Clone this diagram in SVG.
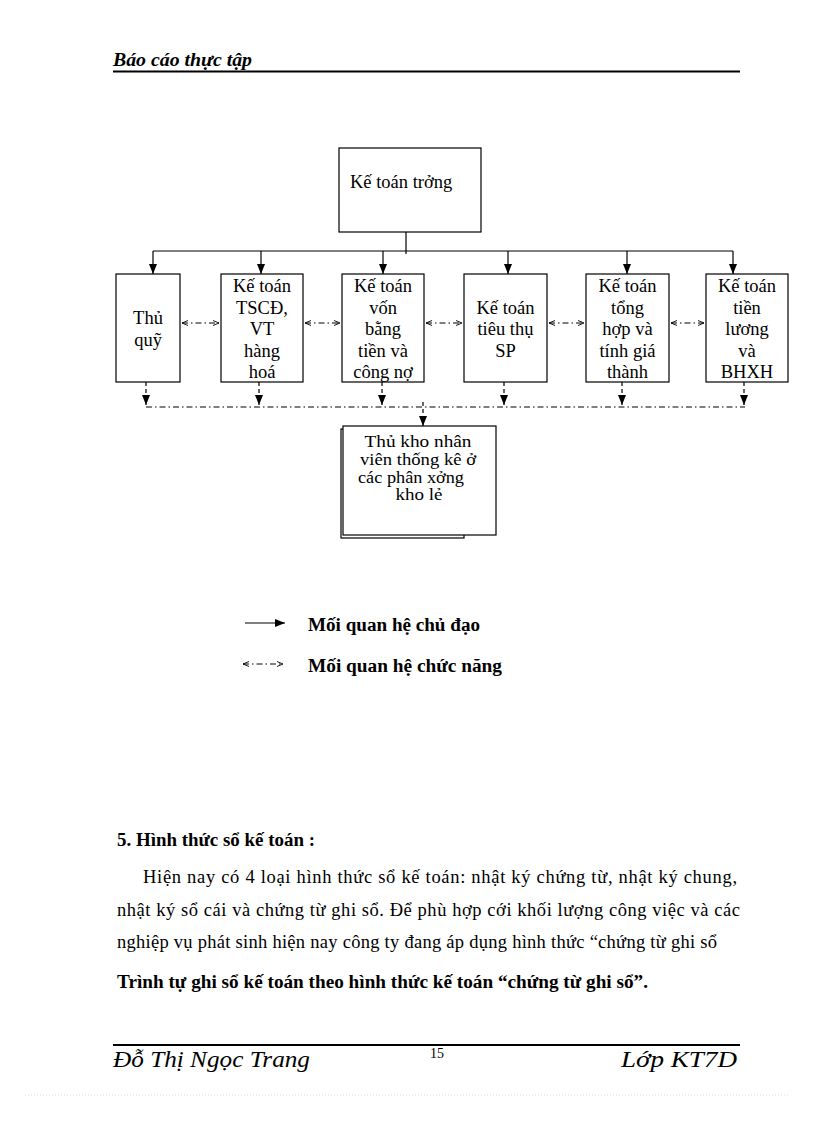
<svg xmlns="http://www.w3.org/2000/svg" width="816" height="1123" viewBox="0 0 816 1123">
<defs>
<style>
text{font-family:"Liberation Serif","Times New Roman",serif;fill:#000}
.box{fill:#fff;stroke:#000;stroke-width:1.2}
.bt{font-size:18.5px;text-anchor:middle}
.kt{font-size:16.5px}
.solid{stroke:#000;stroke-width:1.2;fill:none}
.dash{stroke:#000;stroke-width:1.2;fill:none;stroke-dasharray:4 3}
.dd{stroke:#000;stroke-width:1;fill:none;stroke-dasharray:6 3 1.5 3}
.body{font-size:18.5px}
.bold{font-weight:bold}
</style>
<marker id="ah" markerUnits="userSpaceOnUse" markerWidth="10" markerHeight="10" viewBox="0 0 10 10" refX="10" refY="5" orient="auto">
<path d="M0,1 L10,5 L0,9 Z" fill="#000"/>
</marker>
<marker id="oh" markerUnits="userSpaceOnUse" markerWidth="6" markerHeight="6" viewBox="0 0 6 6" refX="6" refY="3" orient="auto-start-reverse">
<path d="M0,0.5 L6,3 L0,5.5" fill="none" stroke="#000" stroke-width="0.9"/>
</marker>
</defs>
<rect width="816" height="1123" fill="#fff"/>

<g id="header">
<text x="113" y="66" font-size="19" font-weight="bold" font-style="italic" textLength="139" lengthAdjust="spacingAndGlyphs">Báo cáo thực tập</text>
<line x1="113" y1="71.5" x2="740" y2="71.5" stroke="#000" stroke-width="2"/>
</g>

<g id="n-truong">
<rect class="box" x="339" y="148" width="142" height="84"/>
<text x="350" y="188" font-size="18.5">Kế toán trởng</text>
</g>

<g id="n-thuquy">
<rect class="box" x="116" y="274" width="64" height="108"/>
<text class="bt" x="148" y="324">Thủ</text>
<text class="bt" x="148" y="345.5">quỹ</text>
</g>

<g id="n-tscd">
<rect class="box" x="221" y="274" width="82" height="108"/>
<text class="bt" x="262" y="292">Kế toán</text>
<text class="bt" x="262" y="313.5">TSCĐ,</text>
<text class="bt" x="262" y="335">VT</text>
<text class="bt" x="262" y="356.5">hàng</text>
<text class="bt" x="262" y="378">hoá</text>
</g>

<g id="n-von">
<rect class="box" x="342" y="274" width="82" height="108"/>
<text class="bt" x="383" y="292">Kế toán</text>
<text class="bt" x="383" y="313.5">vốn</text>
<text class="bt" x="383" y="335">bằng</text>
<text class="bt" x="383" y="356.5">tiền và</text>
<text class="bt" x="383" y="378">công nợ</text>
</g>

<g id="n-tieuthu">
<rect class="box" x="464" y="274" width="83" height="108"/>
<text class="bt" x="505.5" y="313.5">Kế toán</text>
<text class="bt" x="505.5" y="335">tiêu thụ</text>
<text class="bt" x="505.5" y="356.5">SP</text>
</g>

<g id="n-tonghop">
<rect class="box" x="586" y="274" width="83" height="108"/>
<text class="bt" x="627.5" y="292">Kế toán</text>
<text class="bt" x="627.5" y="313.5">tổng</text>
<text class="bt" x="627.5" y="335">hợp và</text>
<text class="bt" x="627.5" y="356.5">tính giá</text>
<text class="bt" x="627.5" y="378">thành</text>
</g>

<g id="n-tienluong">
<rect class="box" x="706" y="274" width="82" height="108"/>
<text class="bt" x="747" y="292">Kế toán</text>
<text class="bt" x="747" y="313.5">tiền</text>
<text class="bt" x="747" y="335">lương</text>
<text class="bt" x="747" y="356.5">và</text>
<text class="bt" x="747" y="378">BHXH</text>
</g>

<g id="n-thukho">
<rect x="341" y="429" width="123" height="109" fill="#fff" stroke="#000" stroke-width="1.2"/>
<rect class="box" x="343" y="426" width="153" height="109"/>
<text class="kt" x="418" y="447" text-anchor="middle" textLength="107" lengthAdjust="spacingAndGlyphs">Thủ kho nhân</text>
<text class="kt" x="418" y="465" text-anchor="middle" textLength="116" lengthAdjust="spacingAndGlyphs">viên thống kê ở</text>
<text class="kt" x="358" y="483" textLength="106" lengthAdjust="spacingAndGlyphs">các phân xởng</text>
<text class="kt" x="419" y="500" text-anchor="middle" textLength="47" lengthAdjust="spacingAndGlyphs">kho lẻ</text>
</g>

<g id="connectors">
<line class="solid" x1="406" y1="232" x2="406" y2="254"/>
<line class="solid" x1="153" y1="251" x2="733" y2="251"/>
<line class="solid" x1="153" y1="251" x2="153" y2="274" marker-end="url(#ah)"/>
<line class="solid" x1="261" y1="251" x2="261" y2="274" marker-end="url(#ah)"/>
<line class="solid" x1="383" y1="251" x2="383" y2="274" marker-end="url(#ah)"/>
<line class="solid" x1="508" y1="251" x2="508" y2="274" marker-end="url(#ah)"/>
<line class="solid" x1="627" y1="251" x2="627" y2="274" marker-end="url(#ah)"/>
<line class="solid" x1="733" y1="251" x2="733" y2="274" marker-end="url(#ah)"/>

<line class="dd" x1="182" y1="323" x2="219" y2="323" marker-start="url(#oh)" marker-end="url(#oh)"/>
<line class="dd" x1="305" y1="323" x2="340" y2="323" marker-start="url(#oh)" marker-end="url(#oh)"/>
<line class="dd" x1="426" y1="323" x2="462" y2="323" marker-start="url(#oh)" marker-end="url(#oh)"/>
<line class="dd" x1="549" y1="323" x2="584" y2="323" marker-start="url(#oh)" marker-end="url(#oh)"/>
<line class="dd" x1="671" y1="323" x2="704" y2="323" marker-start="url(#oh)" marker-end="url(#oh)"/>

<line class="dash" x1="146" y1="382" x2="146" y2="405" marker-end="url(#ah)"/>
<line class="dash" x1="259" y1="382" x2="259" y2="405" marker-end="url(#ah)"/>
<line class="dash" x1="382" y1="382" x2="382" y2="405" marker-end="url(#ah)"/>
<line class="dash" x1="504" y1="382" x2="504" y2="405" marker-end="url(#ah)"/>
<line class="dash" x1="622" y1="382" x2="622" y2="405" marker-end="url(#ah)"/>
<line class="dash" x1="744" y1="382" x2="744" y2="405" marker-end="url(#ah)"/>
<line class="dd" x1="146" y1="407" x2="745" y2="407"/>
<line class="dash" x1="423" y1="402" x2="423" y2="426" marker-end="url(#ah)"/>
</g>

<g id="legend">
<line class="solid" x1="245" y1="623" x2="285" y2="623" marker-end="url(#ah)"/>
<text x="308" y="631" font-size="18.5" font-weight="bold" textLength="172" lengthAdjust="spacingAndGlyphs">Mối quan hệ chủ đạo</text>
<line class="dd" x1="243" y1="664" x2="283" y2="664" marker-start="url(#oh)" marker-end="url(#oh)"/>
<text x="308" y="672" font-size="18.5" font-weight="bold" textLength="194" lengthAdjust="spacingAndGlyphs">Mối quan hệ chức năng</text>
</g>

<g id="body">
<text class="body bold" x="117" y="846" textLength="198" lengthAdjust="spacingAndGlyphs">5. Hình thức sổ kế toán :</text>
<text class="body" x="143" y="883" textLength="594" lengthAdjust="spacing">Hiện nay có 4 loại hình thức sổ kế toán: nhật ký chứng từ, nhật ký chung,</text>
<text class="body" x="117" y="916" textLength="623" lengthAdjust="spacing">nhật ký sổ cái và chứng từ ghi sổ. Để phù hợp cới khối lượng công việc và các</text>
<text class="body" x="117" y="948" textLength="600" lengthAdjust="spacing">nghiệp vụ phát sinh hiện nay công ty đang áp dụng hình thức “chứng từ ghi sổ</text>
<text class="body bold" x="117" y="988" textLength="531" lengthAdjust="spacingAndGlyphs">Trình tự ghi sổ kế toán theo hình thức kế toán “chứng từ ghi sổ”.</text>
</g>

<g id="footer">
<line x1="113" y1="1045" x2="740" y2="1045" stroke="#000" stroke-width="2"/>
<text x="113" y="1067" font-size="23" font-style="italic" textLength="197" lengthAdjust="spacingAndGlyphs">Đỗ Thị Ngọc Trang</text>
<text x="437" y="1058" font-size="14" text-anchor="middle">15</text>
<text x="737" y="1067" font-size="23" font-style="italic" text-anchor="end" textLength="116" lengthAdjust="spacingAndGlyphs">Lớp KT7D</text>
<line x1="25" y1="1095" x2="790" y2="1095" stroke="#ddd" stroke-width="1" stroke-dasharray="1 2"/>
</g>
</svg>
